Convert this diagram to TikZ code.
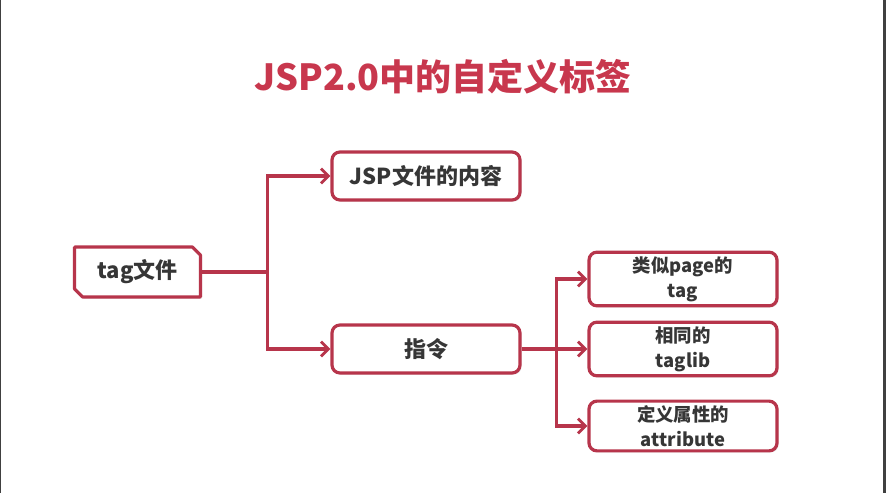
\documentclass[tikz,border=0pt]{standalone}
\usepackage{fontspec}
\setmainfont{Noto Sans CJK SC}
\usetikzlibrary{positioning,arrows.meta,shadows}

\definecolor{titlered}{HTML}{C8374D}
\definecolor{boxred}{HTML}{B7354B}
\definecolor{textgray}{HTML}{363636}

\tikzset{
  box/.style={draw=boxred, line width=2.4pt, fill=white, rounded corners=6pt,
    minimum width=141pt, minimum height=36pt, text=textgray,
    font=\bfseries\fontsize{16.5}{19}\selectfont,
    drop shadow={opacity=0.2, shadow xshift=1.2pt, shadow yshift=-1.2pt}},
  smallbox/.style={box, align=center, font=\bfseries\fontsize{13.8}{18.5}\selectfont},
  tagbox/.style={minimum width=94pt, minimum height=37pt, text=textgray,
    font=\bfseries\fontsize{16.5}{19}\selectfont},
  snip/.style={draw=boxred, line width=2.4pt, fill=white, line join=round,
    drop shadow={opacity=0.2, shadow xshift=1.2pt, shadow yshift=-1.2pt}},
  link/.style={draw=boxred, line width=2.4pt},
  arr/.style={link, -{Straight Barb[length=5.5pt,width=11pt,line width=2.2pt]}}
}

\begin{document}
\begin{tikzpicture}[x=0.75pt, y=-0.75pt]
    \useasboundingbox (0,0) rectangle (886,493);

    % screen edges
    \fill[black!75] (0,0) rectangle (1.5,493);
    \fill[black!75] (883,0) rectangle (886,493);

    \def\xl{426};
    \def\xr{683};
    \def\cut{6pt};

% title
    \node[text=titlered, font=\bfseries\fontsize{27}{30}\selectfont] (title) at (443,77) {JSP2.0中的自定义标签};

% left part
    \node[tagbox] (tag) at (137.5,272) {};
    % snipped corners
    \path[snip] (tag.north west) -- ([xshift=-\cut]tag.north east) -- ([yshift=-\cut]tag.north east)
        -- (tag.south east) -- ([xshift=\cut]tag.south west) -- ([yshift=\cut]tag.south west) -- cycle;
    \node[tagbox] at (tag) {tag文件};
    \node[box] (jsp) at (\xl,176) {JSP文件的内容};
    \node[box] (cmd) at (\xl,349) {指令};

    \draw[link] (tag.east) -- ++(67,0) coordinate (fork1);
    \draw[arr] (fork1) |- (jsp.west);
    \draw[arr] (fork1) |- (cmd.west);

% right part
    \node[smallbox] (page) at (\xr,279) {类似page的\\tag};
    \node[smallbox] (lib) at (\xr,349) {相同的\\taglib};
    \node[smallbox] (attr) at (\xr,426) {定义属性的\\attribute};

    \draw[link] (cmd.east) -- ++(35,0) coordinate (fork2);
    \draw[arr] (fork2) |- (page.west);
    \draw[arr] (fork2) -- (lib.west);
    \draw[arr] (fork2) |- (attr.west);
\end{tikzpicture}
\end{document}
